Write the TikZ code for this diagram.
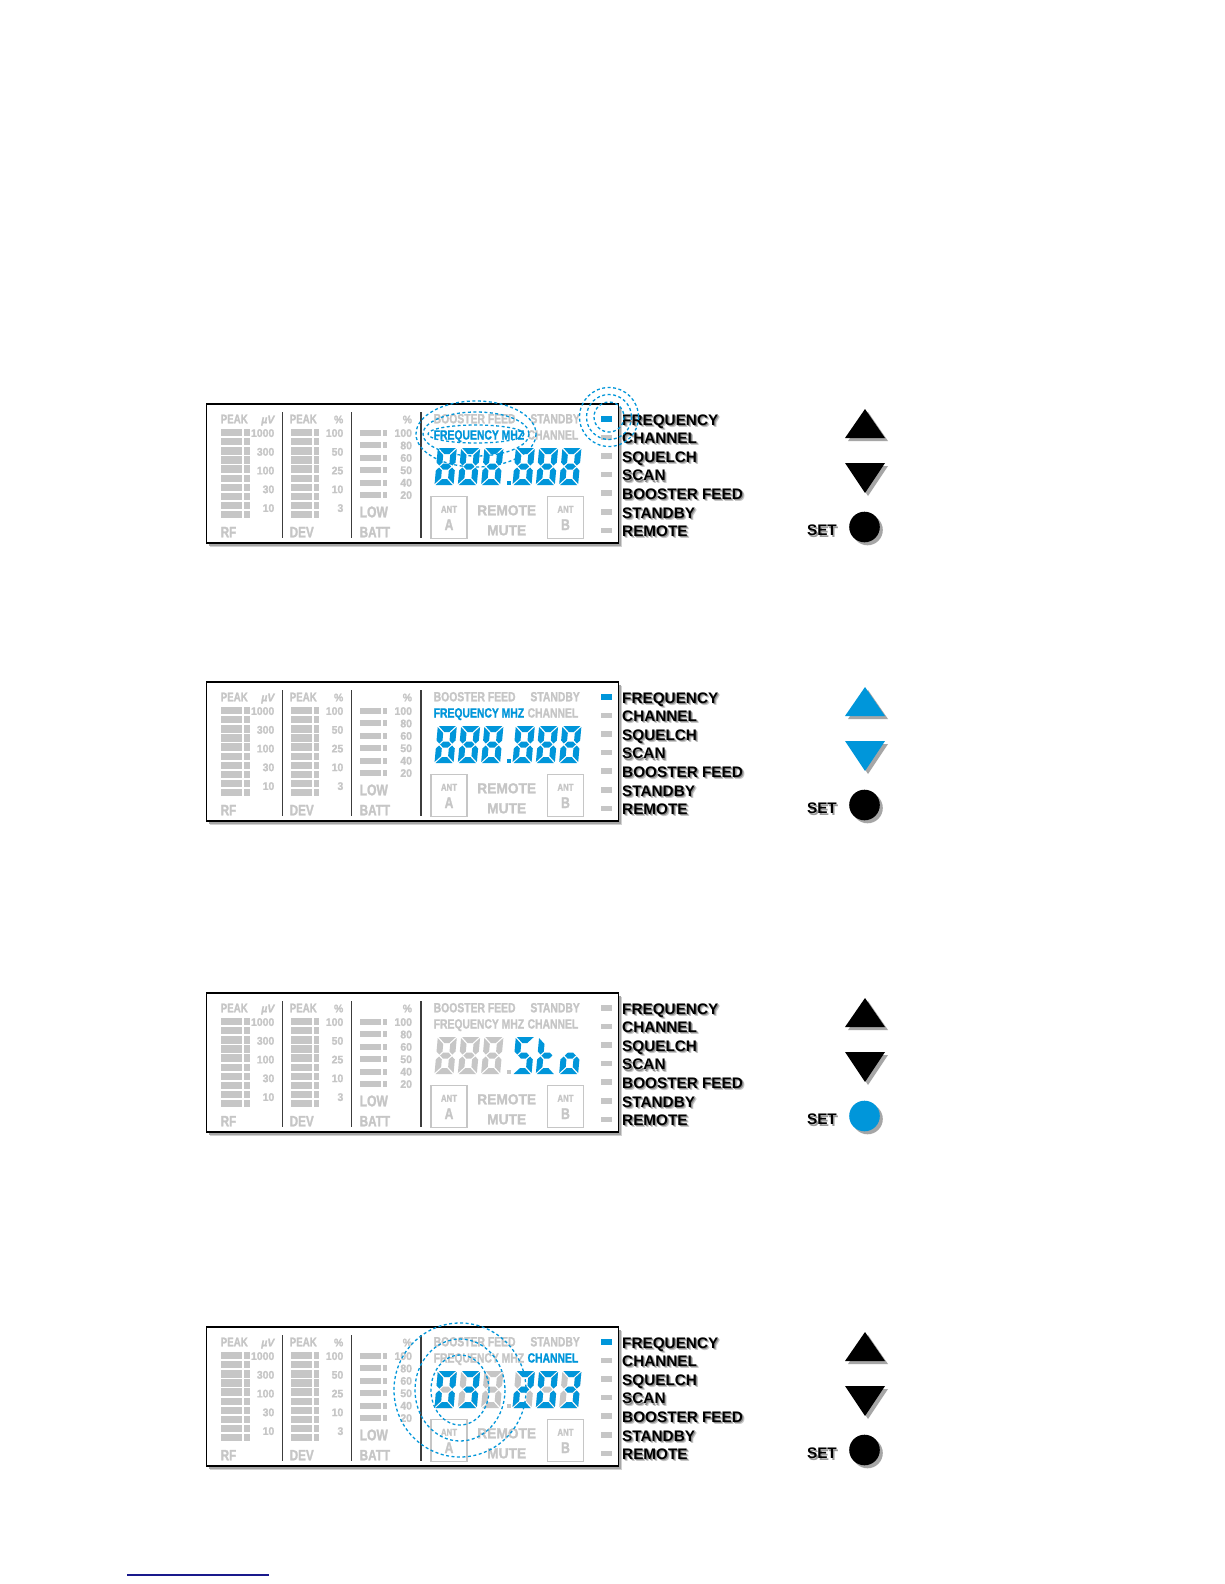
\documentclass[tikz,border=0pt]{standalone}
\usepackage{fontspec}
\setmainfont{Liberation Sans}
\newfontfamily\lcdA[FakeStretch=0.78,FakeBold=1.4]{Liberation Sans}
\newfontfamily\lcdB[FakeStretch=0.95,FakeBold=1.4]{Liberation Sans}
\newcommand\fs[1]{\fontsize{#1}{#1}\selectfont}
\definecolor{lcdblue}{RGB}{0,150,218}
\definecolor{lcdgray}{RGB}{198,198,198}
\definecolor{sepgray}{RGB}{60,60,60}
\definecolor{navyline}{RGB}{25,25,140}
\tikzset{
  lcdt/.style={inner sep=0, text=lcdgray, font=\lcdA\bfseries\fs{#1}},
  lcdn/.style={inner sep=0, text=lcdgray, font=\lcdB\bfseries\fs{#1}},
  lbl/.style={inner sep=0, anchor=base west, font=\bfseries\fs{15.3}},
  ring/.style={draw=lcdblue, line width=1.3pt, dash pattern=on 3pt off 2.5pt},
  btnshadow/.style={fill=black!35},
}
% seven segment pieces (local origin = bottom left, y grows downward)
\def\segXa#1{\fill[#1] (1,-37)--(18,-37)--(12,-31)--(7,-31)--cycle;}
\def\segXd#1{\fill[#1] (1,0)--(18,0)--(12,-6)--(7,-6)--cycle;}
\def\segXg#1{\fill[#1] (4,-18.5)--(7,-21.5)--(12,-21.5)--(15,-18.5)--(12,-15.5)--(7,-15.5)--cycle;}
\def\segXf#1{\fill[#1] (0,-36)--(6,-30)--(6,-22.5)--(3,-19.5)--(0,-22.5)--cycle;}
\def\segXb#1{\fill[#1] (19,-36)--(13,-30)--(13,-22.5)--(16,-19.5)--(19,-22.5)--cycle;}
\def\segXe#1{\fill[#1] (0,-1)--(6,-7)--(6,-14.5)--(3,-17.5)--(0,-14.5)--cycle;}
\def\segXc#1{\fill[#1] (19,-1)--(13,-7)--(13,-14.5)--(16,-17.5)--(19,-14.5)--cycle;}
\newcommand\sevseg[4]{\begin{scope}[shift={(#1,#2)},xslant=0.09]\foreach \s in {#3}{\csname segX\s\endcsname{#4}}\end{scope}}
% panel: #1 id, #2 top y, #3 freq-mhz colour, #4 channel colour, #5 indicator colour, #6 arrow colour, #7 set colour
\newcommand\lcdpanel[7]{%
\begin{scope}[shift={(206.5,#2)}]
  \fill[black!18] (3.5,3.5) rectangle (415.5,142.5);
  \fill[black!35] (2.5,2.5) rectangle (414.5,141.5);
  \draw[line width=1.1pt, fill=white] (0,0) rectangle (412,139);
  \foreach \xx in {76,145,214.5} \draw[sepgray, line width=1.5pt] (\xx,8) -- (\xx,134);
  \foreach \k in {0,...,9} {
    \fill[lcdgray] (14,{25+9.1*\k}) rectangle (35,{32.3+9.1*\k});
    \fill[lcdgray] (37,{25+9.1*\k}) rectangle (43,{32.3+9.1*\k});
    \fill[lcdgray] (84,{25+9.1*\k}) rectangle (105,{32.3+9.1*\k});
    \fill[lcdgray] (107,{25+9.1*\k}) rectangle (112,{32.3+9.1*\k});
  }
  \foreach \k in {0,...,5} {
    \fill[lcdgray] (153,{26+12.4*\k}) rectangle (174,{32+12.4*\k});
    \fill[lcdgray] (176,{26+12.4*\k}) rectangle (180,{32+12.4*\k});
  }
  \node[lcdt=12.5, anchor=base west] (#1-pk1) at (14,19.3) {PEAK};
  \node[lcdn=11, anchor=base east] (#1-uv) at (68,19.3) {\itshape µV};
  \node[lcdt=12.5, anchor=base west] (#1-pk2) at (83,19.3) {PEAK};
  \node[lcdn=11, anchor=base east] (#1-pc1) at (137,19.3) {\%};
  \node[lcdn=11, anchor=base east] (#1-pc2) at (205.7,19.3) {\%};
  \foreach \v [count=\k from 0] in {1000,300,100,30,10}
    \node[lcdn=11, anchor=base east] (#1-rf\k) at (68,{32.9+18.75*\k}) {\v};
  \foreach \v [count=\k from 0] in {100,50,25,10,3}
    \node[lcdn=11, anchor=base east] (#1-dv\k) at (137,{32.9+18.75*\k}) {\v};
  \foreach \v [count=\k from 0] in {100,80,60,50,40,20}
    \node[lcdn=11, anchor=base east] (#1-bt\k) at (205.7,{32.9+12.4*\k}) {\v};
  \node[lcdt=15, anchor=base west] (#1-rf) at (14,133.3) {RF};
  \node[lcdt=15, anchor=base west] (#1-dev) at (83,133.3) {DEV};
  \node[lcdt=15.5, anchor=base west] (#1-low) at (153,113.3) {LOW};
  \node[lcdt=15, anchor=base west] (#1-batt) at (153,133.3) {BATT};
  \node[lcdt=13.3, anchor=base west] (#1-boost) at (227,19.3) {BOOSTER FEED};
  \node[lcdt=13.3, anchor=base east] (#1-stby) at (373.5,19.3) {STANDBY};
  \node[lcdt=13.3, anchor=base west, text=#3] (#1-fmhz) at (227,35.5) {FREQUENCY MHZ};
  \node[lcdt=13.3, anchor=base east, text=#4] (#1-chan) at (372,35.5) {CHANNEL};
  \draw[lcdgray, line width=1.2pt] (224.5,92.5) rectangle (260.5,134.5);
  \draw[lcdgray, line width=1.2pt] (341,92.5) rectangle (377,134.5);
  \node[lcdt=10, anchor=base] (#1-anta) at (242.5,108.7) {ANT};
  \node[lcdt=15.5, anchor=base] (#1-a) at (242.5,126) {A};
  \node[lcdt=10, anchor=base] (#1-antb) at (359,108.7) {ANT};
  \node[lcdt=15.5, anchor=base] (#1-b) at (359,126) {B};
  \node[lcdn=14.5, anchor=base] (#1-rem) at (300.2,111.3) {REMOTE};
  \node[lcdn=14.5, anchor=base] (#1-mute) at (300.2,131.3) {MUTE};
  \foreach \k in {1,...,6}
    \fill[lcdgray] (394.5,{12+18.6*\k}) rectangle (405,{17.5+18.6*\k});
  \fill[#5] (394.5,12) rectangle (405,17.5);
  \foreach \t [count=\k from 0] in {FREQUENCY,CHANNEL,SQUELCH,SCAN,BOOSTER FEED,STANDBY,REMOTE} {
    \node[lbl, text=black!22] (#1-lsa\k) at (417.7,{23.2+18.6*\k}) {\t};
    \node[lbl, text=black!45] (#1-lsb\k) at (416.7,{22.2+18.6*\k}) {\t};
    \node[lbl] (#1-l\k) at (415.5,{21+18.6*\k}) {\t};
  }
  % buttons
  \fill[btnshadow] (641.5,37)--(681.5,37)--(661.5,8)--cycle;
  \fill[#6] (638.5,34)--(678.5,34)--(658.5,5)--cycle;
  \fill[btnshadow] (641.5,62)--(681.5,62)--(661.5,92)--cycle;
  \fill[#6] (638.5,59)--(678.5,59)--(658.5,89)--cycle;
  \fill[btnshadow] (661,126) circle (15.3);
  \fill[#7] (658,123) circle (15.3);
  \node[lbl, anchor=base east, text=black!40] (#1-setsh) at (632,133) {SET};
  \node[lbl, anchor=base east] (#1-set) at (630.5,131.5) {SET};
\end{scope}}
\begin{document}
\begin{tikzpicture}[x=1pt,y=-1pt]
\useasboundingbox (0,0) rectangle (1224,1584);
\fill[white] (0,0) rectangle (1224,1584);
\lcdpanel{p1}{404}{lcdblue}{lcdgray}{lcdblue}{black}{black}
\lcdpanel{p2}{682}{lcdblue}{lcdgray}{lcdblue}{lcdblue}{black}
\lcdpanel{p3}{993}{lcdgray}{lcdgray}{lcdgray}{black}{lcdblue}
\lcdpanel{p4}{1327}{lcdgray}{lcdblue}{lcdblue}{black}{black}
% digits panel 1 and 2
\foreach \py in {404,682} {
  \begin{scope}[shift={(206.5,\py)}]
    \foreach \dx in {228,251.3,274.6,306,329.3,352.6}
      \sevseg{\dx}{81}{a,b,c,d,e,f,g}{lcdblue}
    \fill[lcdblue] (300,76.5) rectangle (304.5,81);
  \end{scope}
}
% digits panel 3
\begin{scope}[shift={(206.5,993)}]
  \foreach \dx in {228,251.3,274.6}
    \sevseg{\dx}{81}{a,b,c,d,e,f,g}{lcdgray}
  \fill[lcdgray] (300,76.5) rectangle (304.5,81);
  \sevseg{306}{81}{a,f,g,c,d}{lcdblue}
  \sevseg{329.3}{81}{f,g,e,d}{lcdblue}
  \sevseg{352.6}{81}{g,c,d,e}{lcdblue}
\end{scope}
% digits panel 4
\begin{scope}[shift={(206.5,1327)}]
  \foreach \dx in {228,251.3,274.6,306,329.3,352.6}
    \sevseg{\dx}{81}{a,b,c,d,e,f,g}{lcdgray}
  \fill[lcdgray] (300,76.5) rectangle (304.5,81);
  \sevseg{228}{81}{a,b,c,d,e,f}{lcdblue}
  \sevseg{251.3}{81}{a,b,c,d,g}{lcdblue}
  \sevseg{306}{81}{a,b,g,e,d}{lcdblue}
  \sevseg{329.3}{81}{a,b,c,d,e,f}{lcdblue}
  \sevseg{352.6}{81}{a,b,c,d,g}{lcdblue}
\end{scope}
% highlight rings
\foreach \rx/\ry in {48/9,53/22,60/33} \draw[ring] (476,434) ellipse [x radius=\rx, y radius=\ry];
\foreach \r in {15,22.5,29.5} \draw[ring] (609,417) circle (\r);
\foreach \rx/\ry in {29/35,45/51,66/67} \draw[ring] (460,1390) ellipse [x radius=\rx, y radius=\ry];
% footer line
\draw[navyline, line width=1.3pt] (127,1575) -- (269,1575);
\end{tikzpicture}
\end{document}
